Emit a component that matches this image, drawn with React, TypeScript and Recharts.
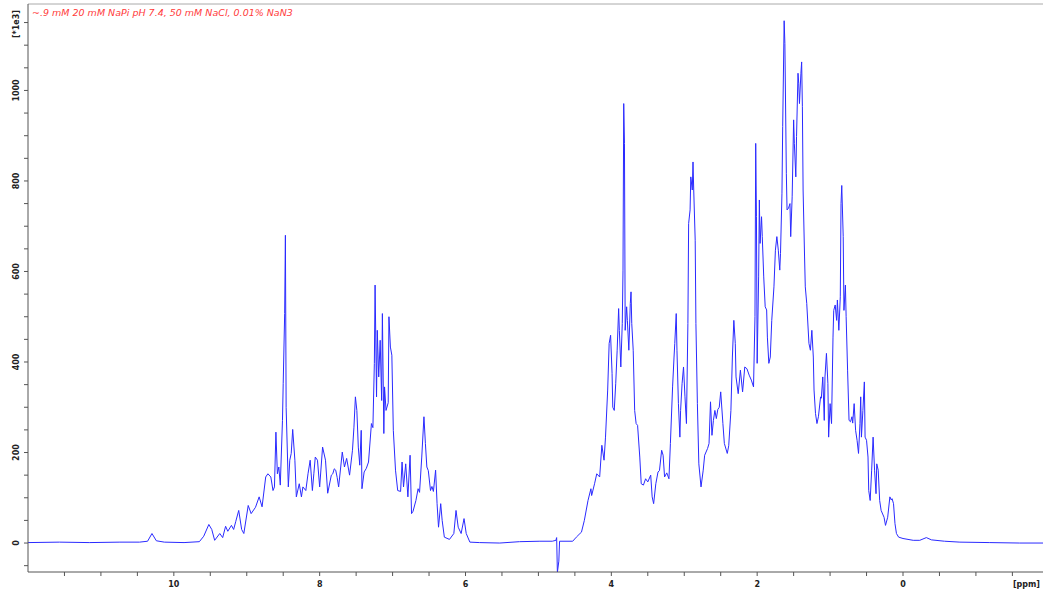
import React from 'react';
import { LineChart, Line, XAxis, YAxis, ReferenceLine } from 'recharts';

// chemical shift (ppm), read left to right off the spectrum
const shiftPpm = [
  12.0, 11.57, 11.16, 10.74, 10.47, 10.36, 10.3, 10.24, 10.13, 9.86,
  9.65, 9.59, 9.52, 9.48, 9.44, 9.37, 9.33, 9.29, 9.26, 9.21,
  9.18, 9.15, 9.11, 9.07, 9.04, 8.98, 8.94, 8.88, 8.83, 8.79,
  8.74, 8.71, 8.67, 8.64, 8.62, 8.6, 8.58, 8.56, 8.54, 8.51,
  8.5, 8.48, 8.47, 8.46, 8.43, 8.41, 8.39, 8.37, 8.34, 8.32,
  8.28, 8.25, 8.23, 8.19, 8.16, 8.13, 8.1, 8.08, 8.06, 8.03,
  8.0, 7.96, 7.92, 7.89, 7.84, 7.82, 7.8, 7.78, 7.76, 7.74,
  7.69, 7.66, 7.63, 7.59, 7.55, 7.53, 7.51, 7.49, 7.47, 7.45,
  7.43, 7.42, 7.39, 7.36, 7.33, 7.29, 7.27, 7.25, 7.24, 7.22,
  7.21, 7.19, 7.17, 7.15, 7.14, 7.12, 7.11, 7.09, 7.06, 7.05,
  7.03, 7.01, 6.99, 6.96, 6.93, 6.89, 6.87, 6.85, 6.82, 6.79,
  6.76, 6.74, 6.72, 6.68, 6.65, 6.63, 6.6, 6.57, 6.55, 6.53,
  6.51, 6.48, 6.46, 6.44, 6.41, 6.39, 6.37, 6.34, 6.32, 6.29,
  6.22, 6.16, 6.13, 6.1, 6.06, 6.02, 5.99, 5.94, 5.81, 5.53,
  5.26, 4.98, 4.81, 4.76, 4.75, 4.74, 4.72, 4.71, 4.53, 4.48,
  4.43, 4.41, 4.37, 4.32, 4.28, 4.27, 4.23, 4.2, 4.16, 4.13,
  4.1, 4.08, 4.05, 4.03, 4.01, 3.99, 3.98, 3.96, 3.94, 3.92,
  3.9, 3.89, 3.87, 3.85, 3.84, 3.83, 3.82, 3.81, 3.79, 3.78,
  3.76, 3.74, 3.73, 3.72, 3.7, 3.68, 3.66, 3.64, 3.61, 3.59,
  3.56, 3.53, 3.5, 3.46, 3.44, 3.42, 3.39, 3.36, 3.34, 3.31,
  3.29, 3.27, 3.24, 3.21, 3.19, 3.16, 3.14, 3.13, 3.11, 3.1,
  3.08, 3.06, 3.05, 3.03, 3.01, 2.99, 2.97, 2.95, 2.94, 2.92,
  2.91, 2.89, 2.88, 2.87, 2.85, 2.84, 2.82, 2.8, 2.77, 2.74,
  2.72, 2.68, 2.66, 2.64, 2.62, 2.6, 2.58, 2.56, 2.54, 2.52,
  2.5, 2.47, 2.45, 2.41, 2.39, 2.36, 2.34, 2.32, 2.3, 2.29,
  2.26, 2.23, 2.2, 2.17, 2.14, 2.11, 2.08, 2.05, 2.03, 2.02,
  2.01, 2.0, 1.98, 1.97, 1.96, 1.94, 1.93, 1.91, 1.89, 1.87,
  1.86, 1.84, 1.82, 1.8, 1.77, 1.75, 1.73, 1.71, 1.69, 1.68,
  1.66, 1.65, 1.63, 1.62, 1.6, 1.59, 1.57, 1.55, 1.54, 1.52,
  1.5, 1.49, 1.47, 1.46, 1.44, 1.43, 1.42, 1.4, 1.39, 1.38,
  1.37, 1.35, 1.34, 1.32, 1.29, 1.27, 1.25, 1.23, 1.22, 1.2,
  1.18, 1.16, 1.13, 1.12, 1.1, 1.08, 1.07, 1.05, 1.03, 1.02,
  1.0, 0.98, 0.96, 0.95, 0.93, 0.91, 0.9, 0.88, 0.86, 0.85,
  0.84, 0.82, 0.81, 0.79, 0.78, 0.76, 0.74, 0.72, 0.7, 0.69,
  0.67, 0.65, 0.63, 0.61, 0.59, 0.58, 0.57, 0.55, 0.53, 0.52,
  0.5, 0.48, 0.47, 0.45, 0.43, 0.41, 0.39, 0.37, 0.36, 0.34,
  0.32, 0.3, 0.26, 0.24, 0.21, 0.18, 0.16, 0.15, 0.13, 0.11,
  0.09, 0.06, 0.0, -0.14, -0.23, -0.32, -0.39, -0.57, -0.78, -1.19,
  -1.6, -1.92,
];

// intensity in units of 1e3
const intensity = [
  1, 2, 1, 2, 2, 4, 21, 5, 2, 1,
  3, 15, 41, 30, 6, 21, 12, 37, 26, 39,
  30, 48, 72, 30, 21, 83, 65, 79, 102, 80,
  146, 153, 146, 116, 124, 245, 153, 168, 128, 271,
  353, 507, 680, 300, 124, 183, 198, 251, 183, 102,
  131, 102, 124, 116, 153, 183, 116, 153, 190, 183,
  124, 212, 183, 110, 150, 153, 164, 161, 145, 124,
  201, 168, 187, 150, 205, 256, 323, 293, 212, 172,
  249, 120, 157, 165, 179, 264, 255, 397, 570, 323,
  470, 367, 448, 315, 507, 242, 345, 293, 310, 500,
  433, 415, 249, 161, 116, 114, 179, 124, 175, 102,
  194, 65, 70, 94, 120, 112, 190, 279, 220, 168,
  160, 116, 125, 114, 161, 87, 35, 87, 50, 13,
  8, 21, 72, 35, 21, 54, 21, 2, 1, 0,
  3, 4, 4, 6, 12, -65, -40, 4, 4, 13,
  21, 24, 50, 94, 120, 105, 131, 153, 146, 216,
  183, 234, 338, 441, 459, 375, 300, 293, 352, 426,
  518, 470, 389, 485, 603, 971, 883, 470, 522, 492,
  426, 529, 555, 485, 426, 293, 264, 260, 190, 131,
  128, 142, 135, 150, 102, 87, 131, 157, 160, 205,
  194, 146, 155, 142, 220, 345, 411, 441, 507, 426,
  308, 234, 293, 352, 389, 323, 264, 485, 706, 736,
  809, 780, 842, 780, 669, 485, 308, 175, 124, 161,
  194, 209, 220, 312, 238, 271, 293, 275, 295, 300,
  334, 264, 220, 198, 215, 293, 411, 492, 441, 367,
  330, 382, 334, 389, 385, 371, 360, 345, 500, 883,
  721, 397, 588, 758, 662, 721, 677, 588, 522, 515,
  455, 397, 411, 492, 566, 647, 677, 647, 603, 640,
  773, 920, 1154, 1104, 817, 736, 740, 750, 677, 765,
  935, 883, 809, 898, 1038, 1016, 971, 1038, 1063, 964,
  780, 632, 566, 529, 441, 426, 470, 411, 338, 286,
  264, 279, 323, 320, 367, 271, 367, 419, 352, 234,
  308, 264, 455, 514, 526, 492, 537, 470, 544, 750,
  790, 677, 514, 570, 500, 382, 271, 268, 279, 265,
  308, 249, 227, 198, 264, 323, 234, 293, 356, 234,
  227, 190, 116, 94, 161, 234, 161, 109, 175, 161,
  94, 72, 57, 39, 57, 102, 95, 98, 87, 43,
  21, 13, 10, 6, 6, 12, 7, 4, 2, 1,
  0, 0,
];

const xTicks = [11.5, 11, 10.5, 10, 9.5, 9, 8.5, 8, 7.5, 7, 6.5, 6, 5.5, 5, 4.5, 4, 3.5, 3, 2.5, 2, 1.5, 1, 0.5, 0, -0.5, -1, -1.5];
const yTicks = [-50, 0, 50, 100, 150, 200, 250, 300, 350, 400, 450, 500, 550, 600, 650, 700, 750, 800, 850, 900, 950, 1000, 1050, 1100, 1150];
const yTop = 1191;
const sampleNote = '~.9 mM 20 mM NaPi pH 7.4, 50 mM NaCl, 0.01% NaN3';

const data = shiftPpm.map((ppm, i) => ({ ppm, value: intensity[i] }));

const labelFont = { fontFamily: 'DejaVu Sans', fontSize: 8, fontWeight: 'bold' as const, fill: '#222' };

const XTick = ({ x, y, payload }: any) => {
  const v = payload.value;
  if (v % 2 !== 0) return null;
  return (
    <text x={x} y={y + 9} textAnchor="middle" {...labelFont}>
      {v}
    </text>
  );
};

const YTick = ({ x, y, payload }: any) => {
  const v = payload.value;
  if (v % 200 !== 0 || v < 0) return null;
  return (
    <text x={x - 3} y={y} textAnchor="middle" transform={`rotate(-90, ${x - 3}, ${y})`} {...labelFont}>
      {v}
    </text>
  );
};

export default function App() {
  return (
    <div style={{ position: 'absolute', left: 0, top: 0, width: 1043, height: 594, background: '#fff', overflow: 'hidden' }}>
      <style>{'body{margin:0}'}</style>
      <LineChart width={1043} height={594} data={data} margin={{ top: 4, right: 0, bottom: 0, left: 0 }}>
        <XAxis
          type="number"
          dataKey="ppm"
          domain={[-1.92, 12]}
          reversed
          allowDataOverflow
          ticks={xTicks}
          interval={0}
          tick={<XTick />}
          tickSize={4}
          height={22}
          stroke="#555"
        />
        <YAxis
          type="number"
          domain={[-64, yTop]}
          allowDataOverflow
          ticks={yTicks}
          interval={0}
          tick={<YTick />}
          tickSize={4}
          width={28}
          stroke="#555"
        />
        <ReferenceLine y={yTop} stroke="#aaa" />
        <Line
          type="linear"
          dataKey="value"
          stroke="#2a2aff"
          strokeWidth={1}
          dot={false}
          isAnimationActive={false}
        />
        <text x={19} y={24} textAnchor="middle" transform="rotate(-90, 19, 24)" {...labelFont}>
          [*1e3]
        </text>
        <text x={32} y={16} fontFamily="DejaVu Sans" fontSize={9.5} fontStyle="italic" fill="#ff3b3b">
          {sampleNote}
        </text>
        <text x={1040} y={587} textAnchor="end" {...labelFont}>
          [ppm]
        </text>
      </LineChart>
    </div>
  );
}
